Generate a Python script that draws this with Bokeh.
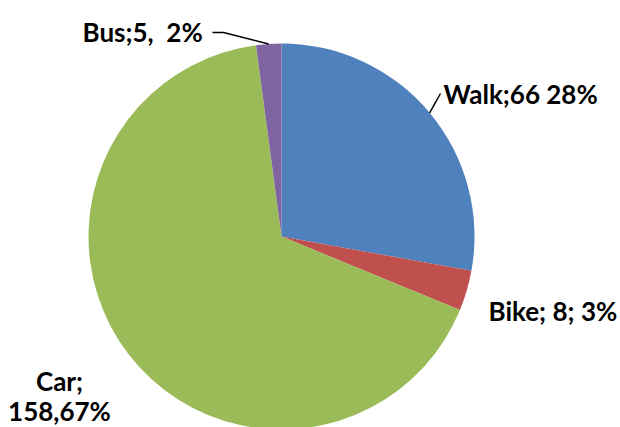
import numpy as np
from bokeh.plotting import figure
from bokeh.models import Range1d, ColumnDataSource
from bokeh.core.properties import value
from bokeh.embed import file_html
from bokeh.resources import INLINE

categories = ["Walk", "Bike", "Car", "Bus"]
counts = [66, 8, 158, 5]
colors = ["#4F81BD", "#C0504D", "#9BBB59", "#8064A2"]
labels = ["Walk;66 28%", "Bike; 8; 3%", "Car;\n158,67%", "Bus;5,\u00a0 2%"]

W, H = 620, 427
cx, cy, r = 281, H - 236, 193

vals = np.array(counts, dtype=float)
frac = vals / vals.sum()
cum = np.concatenate([[0], np.cumsum(frac)])
start = np.pi / 2 - cum[:-1] * 2 * np.pi
end = np.pi / 2 - cum[1:] * 2 * np.pi
mid = (start + end) / 2

src = ColumnDataSource(dict(cat=categories, val=counts, color=colors,
                            start=start, end=end))

p = figure(width=W, height=H, x_range=Range1d(0, W), y_range=Range1d(0, H),
           output_backend="svg", toolbar_location=None,
           x_axis_location=None, y_axis_location=None, min_border=0)
p.grid.visible = False
p.outline_line_color = None
p.background_fill_color = "white"
p.border_fill_color = "white"

p.wedge(x=cx, y=cy, radius=r, start_angle="start", end_angle="end",
        direction="clock", fill_color="color", line_color=None, source=src)

# leader lines from slice mid-angle on the rim
ex = cx + r * np.cos(mid)
ey = cy + r * np.sin(mid)
# Walk
p.line([ex[0], 440], [ey[0], H - 93], line_color="black", line_width=1.5)
# Bus
p.line([ex[3], 223, 212], [ey[3], H - 32, H - 32], line_color="black", line_width=1.5)

font = value("Lato")
fs = "26px"
tx = [443, 488, 59, 82]
ty = [H - 93, H - 310, H - 380, H - 31]
align = ["left", "left", "center", "left"]
for i in range(4):
    if i == 2:
        lines = labels[i].split("\n")
        for j, ln in enumerate(lines):
            p.text(x=[tx[i]], y=[ty[i] - 30 * j], text=[ln], text_font=font,
                   text_font_size=fs, text_font_style="bold",
                   text_color="black", text_align="center",
                   text_baseline="alphabetic")
    else:
        p.text(x=[tx[i]], y=[ty[i]], text=[labels[i]], text_font=font,
               text_font_size=fs, text_font_style="bold",
               text_color="black", text_align=align[i],
               text_baseline="alphabetic")

open("out.html", "w").write(file_html(p, INLINE))
